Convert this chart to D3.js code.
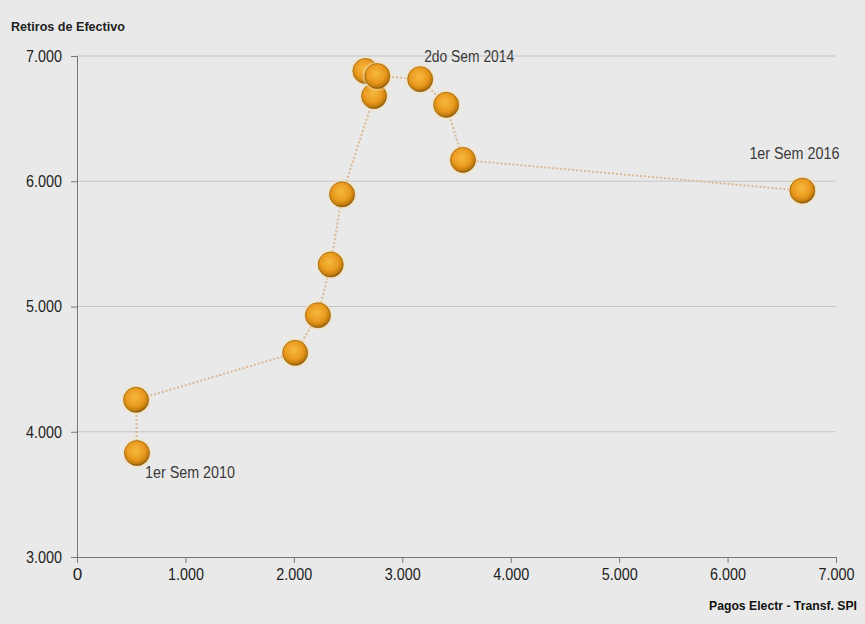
<!DOCTYPE html>
<html><head><meta charset="utf-8">
<script src="https://cdn.jsdelivr.net/npm/d3@7"></script>
<style>
html,body{margin:0;padding:0;background:#e9e9e9;}
svg{display:block;}
text{font-family:"Liberation Sans Narrow","Arial Narrow","Liberation Sans",Arial,sans-serif;}
</style></head>
<body><svg id="c" width="865" height="624"></svg>
<script>
// Semesters 1er Sem 2010 .. 1er Sem 2016
const periods = ["1er Sem 2010","2do Sem 2010","1er Sem 2011","2do Sem 2011","1er Sem 2012","2do Sem 2012","1er Sem 2013","2do Sem 2013","1er Sem 2014","2do Sem 2014","1er Sem 2015","2do Sem 2015","1er Sem 2016"];
const pagos   = [553, 545, 2012, 2222, 2340, 2445, 2740, 2660, 2770, 3165, 3405, 3560, 6690];
const retiros = [3830, 4255, 4630, 4930, 5335, 5895, 6680, 6880, 6840, 6815, 6610, 6170, 5925];
const labeled = ["1er Sem 2010","2do Sem 2014","1er Sem 2016"];
const xTicks = [0,1000,2000,3000,4000,5000,6000,7000];
const yTicks = [3000,4000,5000,6000,7000];
const xTitle = "Pagos Electr - Transf. SPI";
const yTitle = "Retiros de Efectivo";

const svg = d3.select("#c");
const fmt = v => d3.format(",")(v).replace(/,/g,".");
const x = d3.scaleLinear().domain([0,7000]).range([77,836]);
const y = d3.scaleLinear().domain([3000,7000]).range([557,56]);

const defs = svg.append("defs");
const g = defs.append("radialGradient").attr("id","ball").attr("cx","45%").attr("cy","40%").attr("r","60%");
g.append("stop").attr("offset","0%").attr("stop-color","#f6b940");
g.append("stop").attr("offset","60%").attr("stop-color","#ea9a1e");
g.append("stop").attr("offset","88%").attr("stop-color","#c17c0e");
g.append("stop").attr("offset","100%").attr("stop-color","#7d520e");
const gl = defs.append("radialGradient").attr("id","glow");
gl.append("stop").attr("offset","70%").attr("stop-color","#f6d9a0").attr("stop-opacity",0.9);
gl.append("stop").attr("offset","100%").attr("stop-color","#f6e2b8").attr("stop-opacity",0);

// grid
svg.append("g").selectAll("line").data(yTicks.filter(d=>d>3000)).join("line")
  .attr("x1",x(0)).attr("x2",x(7000)).attr("y1",d=>y(d)).attr("y2",d=>y(d))
  .attr("stroke","#c6c6c6").attr("stroke-width",1.2);

// axes
const xa = svg.append("g").attr("transform",`translate(0,${y(3000)})`)
  .call(d3.axisBottom(x).tickValues(xTicks).tickFormat(fmt).tickSize(6).tickPadding(5));
const ya = svg.append("g").attr("transform",`translate(${x(0)},0)`)
  .call(d3.axisLeft(y).tickValues(yTicks).tickFormat(fmt).tickSize(6).tickPadding(9));
[xa,ya].forEach(a=>{
  a.select(".domain").attr("stroke","#777");
  a.selectAll(".tick line").attr("stroke","#777");
  a.selectAll("text").attr("font-size",17).attr("fill","#222")
   .attr("font-family",'"Liberation Sans Narrow","Arial Narrow","Liberation Sans",Arial,sans-serif')
   .each(function(d){ if(d!==0) d3.select(this).attr("textLength",36).attr("lengthAdjust","spacingAndGlyphs"); });
});

// titles
svg.append("text").attr("x",11).attr("y",31).attr("font-size",12.5).attr("font-weight","bold").attr("fill","#222")
  .attr("textLength",114).attr("lengthAdjust","spacingAndGlyphs").text(yTitle);
svg.append("text").attr("x",709).attr("y",610).attr("font-size",13).attr("font-weight","bold").attr("fill","#111")
  .attr("textLength",148).attr("lengthAdjust","spacingAndGlyphs").text(xTitle);

// connecting line
const pts = periods.map((p,i)=>({p, xv:pagos[i], yv:retiros[i]}));
svg.append("path").datum(pts)
  .attr("d", d3.line().x(d=>x(d.xv)).y(d=>y(d.yv)))
  .attr("fill","none").attr("stroke","#dcb892").attr("stroke-width",2).attr("stroke-dasharray","2,2");

// bubbles
const b = svg.append("g").selectAll("g").data(pts).join("g")
  .attr("transform",d=>`translate(${x(d.xv)},${y(d.yv)})`);
b.append("circle").attr("r",16).attr("fill","url(#glow)");
b.append("circle").attr("r",12.5).attr("fill","url(#ball)").attr("stroke","#a06810").attr("stroke-width",0.8);

// labels
const lab = {"1er Sem 2010":[8,25],"2do Sem 2014":[4,-17],"1er Sem 2016":[-53,-32]};
svg.append("g").selectAll("text").data(pts.filter(d=>labeled.includes(d.p))).join("text")
  .attr("x",d=>x(d.xv)+lab[d.p][0]).attr("y",d=>y(d.yv)+lab[d.p][1])
  .attr("font-size",16).attr("fill","#3a3a3a")
  .attr("textLength",90).attr("lengthAdjust","spacingAndGlyphs").text(d=>d.p);
</script></body></html>
